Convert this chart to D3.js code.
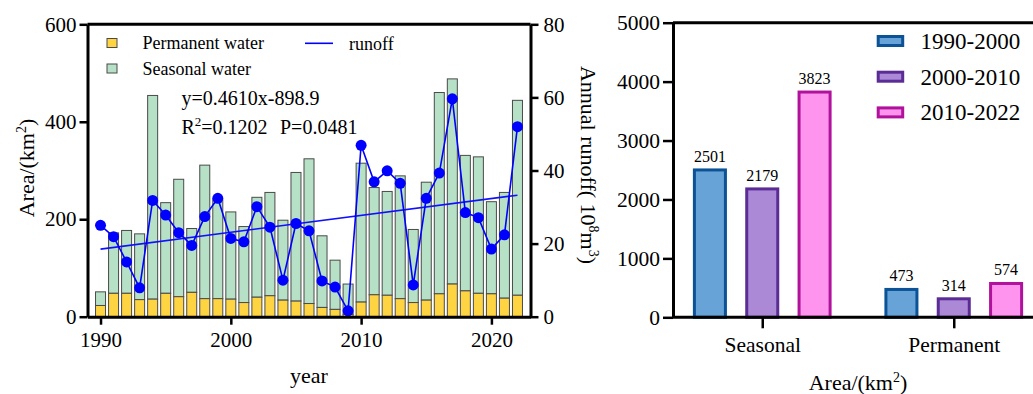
<!DOCTYPE html>
<html>
<head>
<meta charset="utf-8">
<script src="https://cdn.jsdelivr.net/npm/d3@7"></script>
<style>
  body { margin: 0; background: #fff; }
  svg { display: block; }
  text { font-family: "Liberation Serif", "Times New Roman", serif; fill: #000; }
</style>
</head>
<body>
<div id="chart"></div>
<script>
// ---------- data: left panel (yearly) ----------
var years = d3.range(1990, 2023);
var permanentWater = [23, 48, 48, 35, 36, 48, 41, 50, 37, 37, 36, 29, 40, 43, 34, 32, 27, 19, 15, 5,
                      30, 45, 44, 37, 29, 34, 47, 67, 53, 48, 47, 38, 44];
var seasonalWater = [28, 124, 129, 135, 418, 186, 241, 131, 274, 203, 179, 156, 205, 212, 164, 264, 297, 147, 101, 62,
                     285, 220, 213, 252, 150, 242, 413, 421, 278, 280, 189, 217, 400];
var runoff = [25.0, 21.9, 15.0, 7.9, 31.8, 27.8, 23.0, 19.5, 27.4, 32.4, 21.4, 20.5, 30.1, 24.5, 10.0, 25.5, 23.5, 9.8, 8.1, 1.6,
              46.9, 36.9, 39.9, 36.5, 8.7, 32.4, 39.3, 59.6, 28.5, 27.1, 18.5, 22.4, 52.0];
var trendSlope = 0.4610, trendIntercept = -898.9;
var leftYTicks = [0, 200, 400, 600];
var rightYTicks = [0, 20, 40, 60, 80];
var yearTicks = [1990, 2000, 2010, 2020];

// ---------- data: right panel (period totals) ----------
var areaTypes = ["Seasonal", "Permanent"];
var periods = ["1990-2000", "2000-2010", "2010-2022"];
var seasonalTotals = [2501, 2179, 3823];
var permanentTotals = [473, 314, 574];
var areaTicks = [0, 1000, 2000, 3000, 4000, 5000];

var periodFill = ["#67a3d6", "#ab89d6", "#ff94ee"];
var periodStroke = ["#0b5296", "#5b2c95", "#b0129c"];

var serif = "'Liberation Serif', 'Times New Roman', serif";

var svg = d3.select("#chart").append("svg")
  .attr("width", 1033)
  .attr("height", 394)
  .attr("font-family", serif);

// ================= LEFT PANEL =================
var x = d3.scaleLinear().domain([1989, 2023]).range([87.5, 530.5]);
var yArea = d3.scaleLinear().domain([0, 600]).range([316.7, 24.3]);
var yRun = d3.scaleLinear().domain([0, 80]).range([316.7, 24.3]);

var left = svg.append("g");

// stacked bars
var barW = 10;
var rows = years.map(function(yr, i) {
  return { year: yr, perm: permanentWater[i], seas: seasonalWater[i], run: runoff[i] };
});

left.append("g").selectAll("rect")
  .data(rows)
  .enter().append("rect")
  .attr("x", function(d) { return x(d.year) - barW / 2; })
  .attr("y", function(d) { return yArea(d.perm + d.seas); })
  .attr("width", barW)
  .attr("height", function(d) { return yArea(d.perm) - yArea(d.perm + d.seas); })
  .attr("fill", "#b6e1c7")
  .attr("stroke", "#4a4a4a")
  .attr("stroke-width", 1);

left.append("g").selectAll("rect")
  .data(rows)
  .enter().append("rect")
  .attr("x", function(d) { return x(d.year) - barW / 2; })
  .attr("y", function(d) { return yArea(d.perm); })
  .attr("width", barW)
  .attr("height", function(d) { return yArea(0) - yArea(d.perm); })
  .attr("fill", "#ffd443")
  .attr("stroke", "#4a4a4a")
  .attr("stroke-width", 1);

// trend line
left.append("line")
  .attr("x1", x(1990)).attr("y1", yRun(trendSlope * 1990 + trendIntercept))
  .attr("x2", x(2022)).attr("y2", yRun(trendSlope * 2022 + trendIntercept))
  .attr("stroke", "#1010ff")
  .attr("stroke-width", 1.6);

// runoff line + dots
left.append("path")
  .datum(rows)
  .attr("fill", "none")
  .attr("stroke", "#0000ff")
  .attr("stroke-width", 1.6)
  .attr("d", d3.line().x(function(d) { return x(d.year); }).y(function(d) { return yRun(d.run); }));

left.append("g").selectAll("circle")
  .data(rows)
  .enter().append("circle")
  .attr("cx", function(d) { return x(d.year); })
  .attr("cy", function(d) { return yRun(d.run); })
  .attr("r", 5.5)
  .attr("fill", "#0000ff");

// frame top
left.append("line")
  .attr("x1", 87.5).attr("x2", 530.5)
  .attr("y1", 24.3).attr("y2", 24.3)
  .attr("stroke", "#000").attr("stroke-width", 3);

// axes
function styleAxis(g, size) {
  g.attr("font-family", serif).attr("font-size", size);
  g.selectAll("path.domain").attr("stroke-width", 3);
  g.selectAll(".tick line").attr("stroke-width", 2.5);
  g.selectAll("text")
    .style("font-family", serif)
    .style("font-size", size + "px")
    .attr("fill", "#000");
}

left.append("g")
  .attr("transform", "translate(87.5,0)")
  .call(d3.axisLeft(yArea).tickValues(leftYTicks).tickSize(8).tickSizeOuter(0).tickPadding(3))
  .call(styleAxis, 21);

left.append("g")
  .attr("transform", "translate(530.5,0)")
  .call(d3.axisRight(yRun).tickValues(rightYTicks).tickSize(8).tickSizeOuter(0).tickPadding(5))
  .call(styleAxis, 21);

left.append("g")
  .attr("transform", "translate(0,316.7)")
  .call(d3.axisBottom(x).tickValues(yearTicks).tickFormat(d3.format("d")).tickSize(8).tickSizeOuter(0).tickPadding(7))
  .call(styleAxis, 21);

// axis titles
left.append("text")
  .attr("transform", "translate(34,168) rotate(-90)")
  .attr("text-anchor", "middle")
  .style("font-size", "22px")
  .html('Area/(km<tspan dy="-8" font-size="14px">2</tspan><tspan dy="8">)</tspan>');

left.append("text")
  .attr("transform", "translate(581,165) rotate(90)")
  .attr("text-anchor", "middle")
  .style("font-size", "22px")
  .html('Annual runoff( 10<tspan dy="-8" font-size="14px">8</tspan><tspan dy="8">m</tspan><tspan dy="-8" font-size="14px">3</tspan><tspan dy="8">)</tspan>');

left.append("text")
  .attr("x", 309).attr("y", 383)
  .attr("text-anchor", "middle")
  .style("font-size", "22px")
  .text("year");

// legend
var legItems = [
  { label: "Permanent water", fill: "#ffd443", y: 43 },
  { label: "Seasonal water", fill: "#b6e1c7", y: 68.5 }
];
legItems.forEach(function(d) {
  left.append("rect")
    .attr("x", 107).attr("y", d.y - 4.5)
    .attr("width", 10).attr("height", 9)
    .attr("fill", d.fill).attr("stroke", "#4a4a4a").attr("stroke-width", 1);
  left.append("text")
    .attr("x", 142.5).attr("y", d.y + 6)
    .style("font-size", "18px")
    .text(d.label);
});
left.append("line")
  .attr("x1", 305).attr("x2", 333)
  .attr("y1", 43.3).attr("y2", 43.3)
  .attr("stroke", "#0000ff").attr("stroke-width", 1.6);
left.append("text")
  .attr("x", 349).attr("y", 49.5)
  .style("font-size", "18px")
  .text("runoff");

// equation
left.append("text")
  .attr("x", 181.5).attr("y", 105)
  .style("font-size", "20px")
  .text("y=" + trendSlope.toFixed(4) + "x" + trendIntercept.toFixed(1));
left.append("text")
  .attr("x", 181.5).attr("y", 133.5)
  .style("font-size", "20px")
  .html('R<tspan dy="-8" font-size="13px">2</tspan><tspan dy="8">=0.1202</tspan>');
left.append("text")
  .attr("x", 280).attr("y", 133.5)
  .style("font-size", "20px")
  .text("P=0.0481");

// ================= RIGHT PANEL =================
var right = svg.append("g");
var x0 = d3.scalePoint().domain(areaTypes).range([673, 1043]).padding(0.466);
var x1 = d3.scaleBand().domain(periods).range([-78.5, 78.5]).paddingInner(0.407).paddingOuter(0.2035);
var y2 = d3.scaleLinear().domain([0, 5000]).range([317.3, 22.7]);

var groups = [
  { type: "Seasonal", vals: seasonalTotals },
  { type: "Permanent", vals: permanentTotals }
];

var g = right.selectAll("g.grp")
  .data(groups)
  .enter().append("g")
  .attr("class", "grp")
  .attr("transform", function(d) { return "translate(" + x0(d.type) + ",0)"; });

g.selectAll("rect")
  .data(function(d) { return d.vals.map(function(v, i) { return { period: periods[i], v: v, i: i }; }); })
  .enter().append("rect")
  .attr("x", function(d) { return x1(d.period); })
  .attr("y", function(d) { return y2(d.v); })
  .attr("width", x1.bandwidth())
  .attr("height", function(d) { return y2(0) - y2(d.v); })
  .attr("fill", function(d) { return periodFill[d.i]; })
  .attr("stroke", function(d) { return periodStroke[d.i]; })
  .attr("stroke-width", 3);

// value labels on top of the bars
g.selectAll("text.val")
  .data(function(d) { return d.vals.map(function(v, i) { return { period: periods[i], v: v }; }); })
  .enter().append("text")
  .attr("class", "val")
  .attr("x", function(d) { return x1(d.period) + x1.bandwidth() / 2; })
  .attr("y", function(d) { return y2(d.v) - 8; })
  .attr("text-anchor", "middle")
  .style("font-size", "16px")
  .text(function(d) { return d.v; });

// frame top
right.append("line")
  .attr("x1", 673).attr("x2", 1033)
  .attr("y1", 22.7).attr("y2", 22.7)
  .attr("stroke", "#000").attr("stroke-width", 3);

right.append("g")
  .attr("transform", "translate(673,0)")
  .call(d3.axisLeft(y2).tickValues(areaTicks).tickFormat(d3.format("d")).tickSize(10).tickSizeOuter(0).tickPadding(3))
  .call(styleAxis, 21.5);

var bottomAxis = d3.axisBottom(x0).tickSize(11).tickSizeOuter(0).tickPadding(8);
right.append("g")
  .attr("transform", "translate(0,317.3)")
  .call(bottomAxis)
  .call(styleAxis, 21.5)
  .select("path.domain")
  .attr("d", "M673,0H1033");

right.append("text")
  .attr("x", 858).attr("y", 390)
  .attr("text-anchor", "middle")
  .style("font-size", "22px")
  .html('Area/(km<tspan dy="-8" font-size="14px">2</tspan><tspan dy="8">)</tspan>');

// legend
periods.forEach(function(p, i) {
  var cy = 41 + i * 35.7;
  right.append("rect")
    .attr("x", 878.2).attr("y", cy - 4.5)
    .attr("width", 24.5).attr("height", 9)
    .attr("fill", periodFill[i])
    .attr("stroke", periodStroke[i])
    .attr("stroke-width", 3);
  right.append("text")
    .attr("x", 920.5).attr("y", cy + 8)
    .style("font-size", "23px")
    .text(p);
});
</script>
</body>
</html>
